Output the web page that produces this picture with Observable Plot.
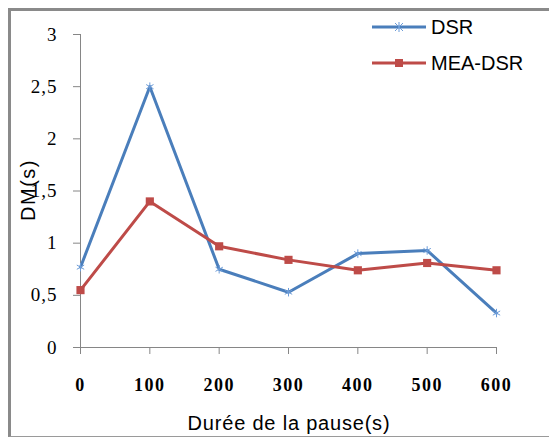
<!DOCTYPE html>
<html>
<head>
<meta charset="utf-8">
<script src="https://cdn.jsdelivr.net/npm/d3@7"></script>
<script src="https://cdn.jsdelivr.net/npm/@observablehq/plot@0.6"></script>
<style>
  html, body { margin: 0; padding: 0; background: #fff; }
  #wrap { position: relative; width: 549px; height: 437px; overflow: hidden; background: #fff; }
  #frame { position: absolute; left: 8px; top: 8px; width: 560px; height: 425px;
           border-left: 3px solid #8a8a8a; border-top: 3px solid #8a8a8a; border-bottom: 1px solid #9a9a9a; }
  #chart { position: absolute; left: 0; top: 0; }
  .ttl { position: absolute; font-family: "Liberation Sans", Arial, sans-serif; font-size: 20px; color: #000; white-space: nowrap; }
  g[aria-label="x-axis tick label"] text { letter-spacing: 1.5px; }
  g[aria-label="y-axis tick label"] text { letter-spacing: 1px; }
  .leg { position: absolute; left: 372px; display: flex; align-items: center; height: 20px; }
  .leg span { font-family: "Liberation Sans", Arial, sans-serif; font-size: 20px; margin-left: 5px; }
</style>
</head>
<body>
<div id="wrap">
  <div id="frame"></div>
  <div id="chart"></div>
</div>
<script>
const pauses = [0, 100, 200, 300, 400, 500, 600];
const dsrValues = [0.77, 2.5, 0.75, 0.53, 0.9, 0.93, 0.33];
const meaValues = [0.55, 1.4, 0.97, 0.84, 0.74, 0.81, 0.74];
const yTicks = [0, 0.5, 1, 1.5, 2, 2.5, 3];
const seriesNames = ["DSR", "MEA-DSR"];
const seriesColors = ["#4a7ebb", "#be4b48"];
const xTitle = "Durée de la pause(s)";
const yTitle = "DM(s)";

const dsr = pauses.map((p, i) => ({x: p, y: dsrValues[i]}));
const mea = pauses.map((p, i) => ({x: p, y: meaValues[i]}));

const plot = Plot.plot({
  width: 549,
  height: 437,
  marginLeft: 80,
  marginRight: 53,
  marginTop: 34,
  marginBottom: 90,
  x: {domain: [0, 600]},
  y: {domain: [0, 3]},
  style: {background: "transparent", overflow: "visible"},
  marks: [
    Plot.axisY({ticks: yTicks, tickSize: 7, tickPadding: 16, stroke: "#868686", fill: "#000",
      tickFormat: d => String(d).replace(".", ","), fontSize: 19, fontFamily: "Liberation Serif", label: null}),
    Plot.axisX({ticks: pauses, tickSize: 7, tickPadding: 24, stroke: "#868686", fill: "#000",
      tickFormat: d => String(d), fontSize: 18, fontFamily: "Liberation Serif", fontWeight: "bold", label: null}),
    Plot.ruleX([0], {y1: 0, y2: 3, stroke: "#868686"}),
    Plot.ruleY([0], {x1: 0, x2: 600, stroke: "#868686"}),
    Plot.line(dsr, {x: "x", y: "y", stroke: seriesColors[0], strokeWidth: 3}),
    Plot.dot(dsr, {x: "x", y: "y", symbol: "asterisk", r: 4, stroke: "#6b9bd8", strokeWidth: 1}),
    Plot.line(mea, {x: "x", y: "y", stroke: seriesColors[1], strokeWidth: 3}),
    Plot.dot(mea, {x: "x", y: "y", symbol: "square", r: 4.6, fill: seriesColors[1], stroke: "none"})
  ]
});
document.getElementById("chart").appendChild(plot);

const wrap = document.getElementById("wrap");
// axis titles
const xt = document.createElement("div");
xt.className = "ttl";
xt.textContent = xTitle;
xt.style.left = "289px"; xt.style.top = "423px";
xt.style.transform = "translate(-50%,-50%)";
xt.style.letterSpacing = "0.8px";
wrap.appendChild(xt);
const yt = document.createElement("div");
yt.className = "ttl";
yt.textContent = yTitle;
yt.style.left = "28px"; yt.style.top = "190px";
yt.style.transform = "translate(-50%,-50%) rotate(-90deg)";
yt.style.letterSpacing = "1.5px";
wrap.appendChild(yt);

// legend
const legTops = [17, 53];
seriesNames.forEach((name, i) => {
  const row = document.createElement("div");
  row.className = "leg";
  row.style.top = legTops[i] + "px";
  const marker = i === 0
    ? `<path d="M27,5 l0,0 M23,1 L31,9 M31,1 L23,9 M27,0 L27,10" stroke="#6b9bd8" stroke-width="1"/>`
    : `<rect x="23" y="1" width="8" height="8" fill="${seriesColors[1]}"/>`;
  row.innerHTML = `<svg width="54" height="10"><line x1="0" x2="54" y1="5" y2="5" stroke="${seriesColors[i]}" stroke-width="3"/>${marker}</svg><span>${name}</span>`;
  wrap.appendChild(row);
});
</script>
</body>
</html>
